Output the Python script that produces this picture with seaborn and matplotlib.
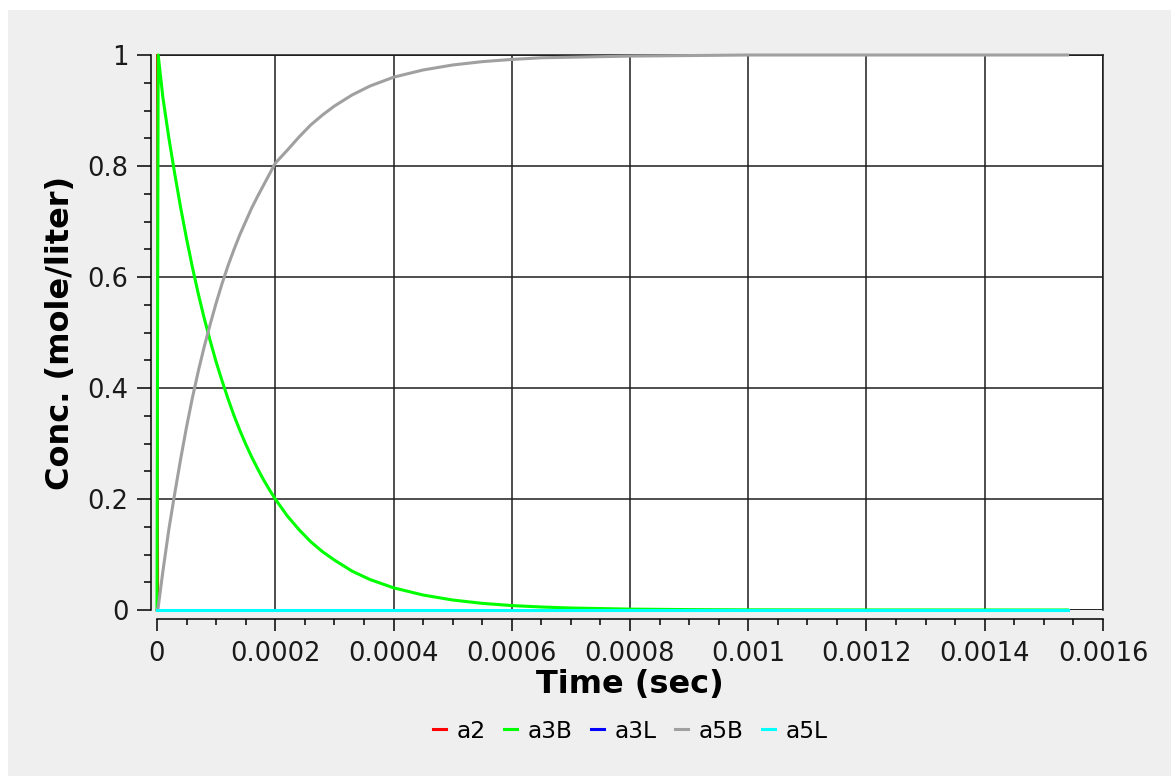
import numpy as np
import pandas as pd
import matplotlib
matplotlib.use("Agg")
import matplotlib.pyplot as plt
from matplotlib.ticker import MultipleLocator, FuncFormatter
from matplotlib.patches import Rectangle
import seaborn as sns

# ---- data ----
time_s = [0.0, 0.000002, 0.00001, 0.00002, 0.00003, 0.00004, 0.00005, 0.00006,
          0.00007, 0.00008, 0.00009, 0.0001, 0.00011, 0.00012, 0.00013, 0.00014,
          0.00015, 0.00016, 0.00017, 0.00018, 0.00019, 0.0002, 0.00022, 0.00024,
          0.00026, 0.00028, 0.0003, 0.00033, 0.00036, 0.0004, 0.00045, 0.0005,
          0.00055, 0.0006, 0.00065, 0.0007, 0.0008, 0.0009, 0.001, 0.0012, 0.00154]
a3B = [0.0, 1.0, 0.923, 0.851, 0.786, 0.725, 0.669, 0.617, 0.569, 0.525, 0.485,
       0.447, 0.413, 0.381, 0.351, 0.324, 0.299, 0.276, 0.255, 0.235, 0.217,
       0.200, 0.170, 0.145, 0.123, 0.105, 0.090, 0.070, 0.055, 0.040, 0.027,
       0.018, 0.012, 0.008, 0.0054, 0.0036, 0.0016, 0.0007, 0.0003, 0.0001, 0.0]
a5B = [0.0, 0.005, 0.07, 0.145, 0.21, 0.272, 0.33, 0.383, 0.431, 0.475, 0.515,
       0.553, 0.588, 0.62, 0.649, 0.676, 0.70, 0.724, 0.745, 0.765, 0.785,
       0.805, 0.828, 0.852, 0.874, 0.892, 0.908, 0.928, 0.944, 0.960, 0.973,
       0.982, 0.988, 0.992, 0.995, 0.996, 0.998, 0.999, 1.0, 1.0, 1.0]
a2  = [1.0] + [0.0] * (len(time_s) - 1)
a3L = [0.0] * len(time_s)
a5L = [0.0] * len(time_s)

series_names = ["a2", "a3B", "a3L", "a5B", "a5L"]
series_colors = ["#ff0000", "#00ff00", "#0000ff", "#a0a0a0", "#00ffff"]

frames = []
for name, vals in zip(series_names, [a2, a3B, a3L, a5B, a5L]):
    frames.append(pd.DataFrame({"time": time_s, "conc": vals, "species": name}))
df = pd.concat(frames, ignore_index=True)

# ---- figure ----
W, H = 1171, 776
fig = plt.figure(figsize=(W / 100, H / 100), dpi=100, facecolor="white")
fig.patches.append(Rectangle((8 / W, 0), 1 - 8 / W, 1 - 10 / H,
                             transform=fig.transFigure, facecolor="#efefef",
                             edgecolor="none", zorder=-10))
ax = fig.add_axes([157 / W, 1 - 610 / H, (1103 - 157) / W, (610 - 55) / H])
ax.set_facecolor("white")

sns.lineplot(data=df, x="time", y="conc", hue="species", hue_order=series_names,
             palette=series_colors, linewidth=2.2, ax=ax, legend=False,
             sort=False, estimator=None)
zmap = {"#ff0000": 3.0, "#00ff00": 3.2, "#0000ff": 3.1, "#a0a0a0": 3.3, "#00ffff": 3.4}
for ln in ax.lines:
    ln.set_clip_on(False)
    c = matplotlib.colors.to_hex(ln.get_color())
    ln.set_zorder(zmap.get(c, 3))
    if c in ("#ff0000", "#0000ff"):
        ln.set_linewidth(1.4)

ax.set_xlim(0, 0.0016)
ax.set_ylim(0, 1)

ax.xaxis.set_major_locator(MultipleLocator(0.0002))
ax.xaxis.set_minor_locator(MultipleLocator(0.00005))
ax.yaxis.set_major_locator(MultipleLocator(0.2))
ax.yaxis.set_minor_locator(MultipleLocator(0.05))
fmt = FuncFormatter(lambda v, p: "%g" % round(v, 8))
ax.xaxis.set_major_formatter(fmt)
ax.yaxis.set_major_formatter(fmt)

ax.grid(True, which="major", color="#1e1e1e", linewidth=1.1, zorder=0)
ax.set_axisbelow(True)

for s in ["top", "right"]:
    ax.spines[s].set_color("#1e1e1e")
    ax.spines[s].set_linewidth(1.1)
ax.spines["left"].set_position(("outward", 4.5))
ax.spines["bottom"].set_position(("outward", 6.5))
for s in ["left", "bottom"]:
    ax.spines[s].set_linewidth(1.1)
    ax.spines[s].set_color("black")
# inner frame on left / bottom
ax.add_patch(Rectangle((0, 0), 1, 1, transform=ax.transAxes, fill=False,
                       edgecolor="#1e1e1e", linewidth=1.1, zorder=1))

ax.tick_params(axis="both", which="major", labelsize=18.5, colors="black",
               labelcolor="#1a1a1a", width=1.1)
ax.tick_params(axis="y", which="major", length=10, pad=6)
ax.tick_params(axis="y", which="minor", length=5, width=1.1)
ax.tick_params(axis="x", which="major", length=8.5, pad=7)
ax.tick_params(axis="x", which="minor", length=4.5, width=1.1)

ax.set_xlabel("Time (sec)", fontsize=23, fontweight="bold", labelpad=2)
ax.set_ylabel("Conc. (mole/liter)", fontsize=23, fontweight="bold", labelpad=8)

handles = [plt.Line2D([], [], color=c, linewidth=2.2) for c in series_colors]
fig.legend(handles, series_names, loc="center", bbox_to_anchor=(630 / W, 1 - 731 / H),
           ncol=5, frameon=False, fontsize=16.8, handlelength=0.55,
           handletextpad=0.45, columnspacing=0.8)

fig.savefig("out.png", dpi=100, facecolor=fig.get_facecolor())
